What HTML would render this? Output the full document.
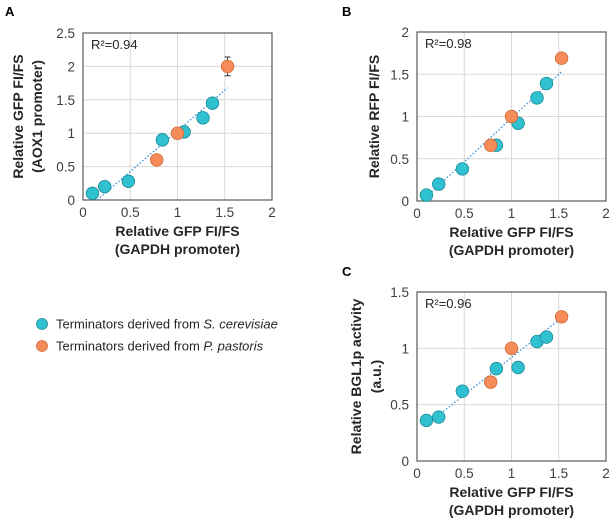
<!DOCTYPE html>
<html><head><meta charset="utf-8"><style>
html,body{margin:0;padding:0;background:#fff;}
svg{display:block;font-family:"Liberation Sans",Arial,sans-serif;}
</style></head><body>
<svg id="fig" width="614" height="523" viewBox="0 0 614 523"></svg>
<script>
const gapdhCer = [0.10, 0.23, 0.48, 0.84, 1.07, 1.27, 1.37];
const gapdhPas = [0.78, 1.00, 1.53];
const aoxCer = [0.10, 0.20, 0.28, 0.90, 1.02, 1.23, 1.45];
const aoxPas = [0.60, 1.00, 2.00];
const rfpCer = [0.07, 0.20, 0.38, 0.66, 0.92, 1.22, 1.39];
const rfpPas = [0.66, 1.00, 1.69];
const bglCer = [0.36, 0.39, 0.62, 0.82, 0.83, 1.06, 1.10];
const bglPas = [0.70, 1.00, 1.28];
const xTicks = [0, 0.5, 1, 1.5, 2];
const xTickLabels = ["0", "0.5", "1", "1.5", "2"];
const yTicksA = [0, 0.5, 1, 1.5, 2, 2.5];
const yTickLabelsA = ["0", "0.5", "1", "1.5", "2", "2.5"];
const yTicksB = [0, 0.5, 1, 1.5, 2];
const yTickLabelsB = ["0", "0.5", "1", "1.5", "2"];
const yTicksC = [0, 0.5, 1, 1.5];
const yTickLabelsC = ["0", "0.5", "1", "1.5"];
const r2Labels = ["R²=0.94", "R²=0.98", "R²=0.96"];
const trendA = [[0.15, 0.0], [1.53, 1.68]];
const trendB = [[0.10, 0.05], [1.53, 1.53]];
const trendC = [[0.25, 0.42], [1.53, 1.27]];

const NS = "http://www.w3.org/2000/svg";
const svg = document.getElementById("fig");
function mk(tag, attrs, parent, text) {
  const e = document.createElementNS(NS, tag);
  for (const k in attrs) e.setAttribute(k, attrs[k]);
  if (text !== undefined) e.textContent = text;
  (parent || svg).appendChild(e);
  return e;
}
const CY = "#2fc1d0", CYS = "#1c8a96", OR = "#f58c5a", ORS = "#d06a38";
const R = 6.3;

function panel(cfg) {
  const g = mk("g", {});
  
  
  const sx = v => cfg.x0 + (v - 0) / 2 * (cfg.x1 - cfg.x0);
  const sy = v => cfg.y0 - v / cfg.ymax * (cfg.y0 - cfg.y1);
  xTicks.forEach((t, i) => {
    const l = mk("line", {x1: sx(t), x2: sx(t), y1: cfg.y1, y2: cfg.y0, stroke: "#d9d9d9", "stroke-width": 1}, g);
    
    
    const tx = mk("text", {x: sx(t), y: cfg.y0 + 17, "text-anchor": "middle", "font-size": 13.5, fill: "#404040"}, g, xTickLabels[i]);
    
    
  });
  cfg.yTicks.forEach((t, i) => {
    const l = mk("line", {x1: cfg.x0, x2: cfg.x1, y1: sy(t), y2: sy(t), stroke: "#d9d9d9", "stroke-width": 1}, g);
    
    
    const tx = mk("text", {x: cfg.x0 - 8, y: sy(t) + 5, "text-anchor": "end", "font-size": 13.5, fill: "#404040"}, g, cfg.yLabels[i]);
    
    
  });
  const box = mk("rect", {x: cfg.x0, y: cfg.y1, width: cfg.x1 - cfg.x0, height: cfg.y0 - cfg.y1, fill: "none", stroke: "#595959", "stroke-width": 1.2}, g);
  
  
  const tl = mk("line", {x1: sx(cfg.trend[0][0]), y1: sy(cfg.trend[0][1]), x2: sx(cfg.trend[1][0]), y2: sy(cfg.trend[1][1]), stroke: "#3d8fd6", "stroke-width": 1.3, "stroke-dasharray": "1.5,2"}, g);
  
  
  if (cfg.err) {
    const ex = sx(gapdhPas[2]);
    const eb = mk("path", {d: `M${ex},${sy(cfg.yPas[2]+cfg.err)}V${sy(cfg.yPas[2]-cfg.err)}M${ex-3},${sy(cfg.yPas[2]+cfg.err)}h6M${ex-3},${sy(cfg.yPas[2]-cfg.err)}h6`, stroke: "#333", fill: "none", "stroke-width": 1}, g);
    
    
  }
  gapdhCer.forEach((x, i) => {
    const c = mk("circle", {cx: sx(x), cy: sy(cfg.yCer[i]), r: R, fill: CY, stroke: CYS, "stroke-width": 0.8}, g);
    
    
  });
  gapdhPas.forEach((x, i) => {
    const c = mk("circle", {cx: sx(x), cy: sy(cfg.yPas[i]), r: R, fill: OR, stroke: ORS, "stroke-width": 0.8}, g);
    
    
  });
  const r2 = mk("text", {x: cfg.x0 + 8, y: cfg.y1 + 16, "font-size": 13, fill: "#262626"}, g, cfg.r2);
  
  
  const cx = (cfg.x0 + cfg.x1) / 2;
  const xt = mk("text", {x: cx, y: cfg.y0 + 36, "text-anchor": "middle", "font-size": 14, "font-weight": "bold", fill: "#262626"}, g);
  
  
  mk("tspan", {x: cx, dy: 0}, xt, "Relative GFP FI/FS");
  mk("tspan", {x: cx, dy: 18}, xt, "(GAPDH promoter)");
  const cy = (cfg.y0 + cfg.y1) / 2;
  cfg.yTitle.forEach((s, i) => {
    const px = cfg.yTitleX[i];
    const t = mk("text", {x: px, y: cy, "text-anchor": "middle", "font-size": 14, "font-weight": "bold", fill: "#262626", transform: `rotate(-90 ${px} ${cy})`}, g, s);
    
    
  });
  const L = mk("text", {x: cfg.letter[0], y: cfg.letter[1], "font-size": 13, "font-weight": "bold", fill: "#000"}, g, cfg.letterText);
  
  
}

panel({name: "panel-a", x0: 83, x1: 272, y0: 200, y1: 33, ymax: 2.5, yTicks: yTicksA, yLabels: yTickLabelsA,
  yCer: aoxCer, yPas: aoxPas, err: 0.14, trend: trendA, r2: r2Labels[0],
  yTitle: ["Relative GFP FI/FS", "(AOX1 promoter)"], yTitleX: [23, 42], letter: [5, 16], letterText: "A"});
panel({name: "panel-b", x0: 417, x1: 606, y0: 201, y1: 32, ymax: 2, yTicks: yTicksB, yLabels: yTickLabelsB,
  yCer: rfpCer, yPas: rfpPas, trend: trendB, r2: r2Labels[1],
  yTitle: ["Relative RFP FI/FS"], yTitleX: [379], letter: [342, 16], letterText: "B"});
panel({name: "panel-c", x0: 417, x1: 606, y0: 461, y1: 292, ymax: 1.5, yTicks: yTicksC, yLabels: yTickLabelsC,
  yCer: bglCer, yPas: bglPas, trend: trendC, r2: r2Labels[2],
  yTitle: ["Relative BGL1p activity", "(a.u.)"], yTitleX: [361, 381], letter: [342, 276], letterText: "C"});

const lg = mk("g", {});


[[CY, CYS, 324, "Terminators derived from ", "S. cerevisiae"], [OR, ORS, 346, "Terminators derived from ", "P. pastoris"]].forEach(d => {
  const c = mk("circle", {cx: 42, cy: d[2], r: 5.5, fill: d[0], stroke: d[1], "stroke-width": 0.8}, lg);
  
  
  const t = mk("text", {x: 56, y: d[2] + 4.5, "font-size": 13, fill: "#262626"}, lg);
  
  
  mk("tspan", {}, t, d[3]);
  mk("tspan", {"font-style": "italic"}, t, d[4]);
});
</script>
</body></html>
